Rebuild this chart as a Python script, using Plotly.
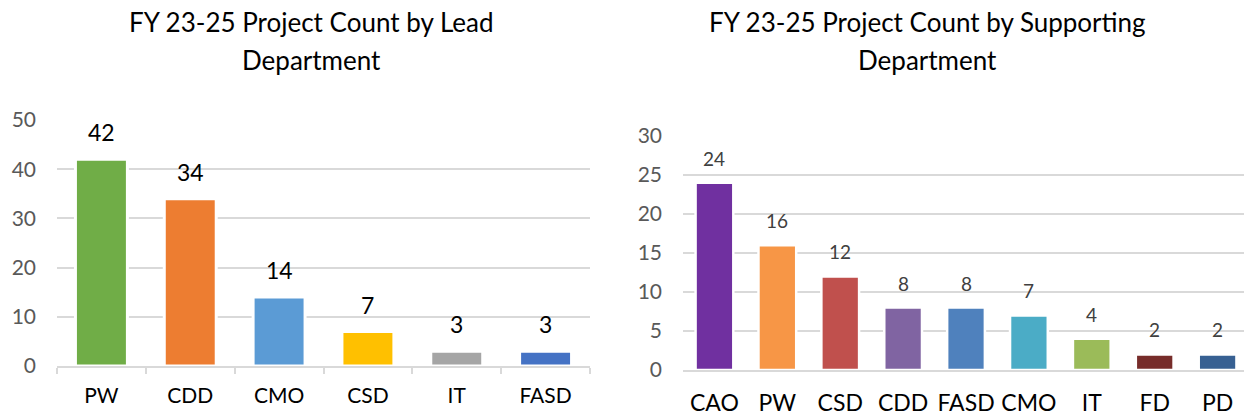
import plotly.graph_objects as go

# ---- data ----
lead_depts = ["PW", "CDD", "CMO", "CSD", "IT", "FASD"]
lead_counts = [42, 34, 14, 7, 3, 3]
lead_colors = ["#70AD47", "#ED7D31", "#5B9BD5", "#FFC000", "#A5A5A5", "#4472C4"]

supp_depts = ["CAO", "PW", "CSD", "CDD", "FASD", "CMO", "IT", "FD", "PD"]
supp_counts = [24, 16, 12, 8, 8, 7, 4, 2, 2]
supp_colors = ["#7030A0", "#F79646", "#C0504D", "#8064A2", "#4F81BD",
               "#4BACC6", "#9BBB59", "#772C2A", "#376092"]

lead_ticks = [0, 10, 20, 30, 40, 50]
supp_ticks = [0, 5, 10, 15, 20, 25, 30]

title_left = ["FY 23-25 Project Count by Lead", "Department"]
title_right = ["FY 23-25 Project Count by Supporting", "Department"]

W, H = 1244, 415
FONT = "Lato"
GRID = "#D9D9D9"

fig = go.Figure()
fig.add_trace(go.Bar(x=lead_depts, y=lead_counts, marker=dict(color=lead_colors, line=dict(color="white", width=3)),
                     width=0.585, xaxis="x", yaxis="y", showlegend=False, hoverinfo="x+y"))
fig.add_trace(go.Bar(x=supp_depts, y=supp_counts, marker=dict(color=supp_colors, line=dict(color="white", width=2.5)),
                     width=0.6, xaxis="x2", yaxis="y2", showlegend=False, hoverinfo="x+y"))

annotations = []
for d, v in zip(lead_depts, lead_counts):
    annotations.append(dict(x=d, y=v, xref="x", yref="y", text=str(v), showarrow=False,
                            yanchor="middle", yshift=27, font=dict(family=FONT, size=23, color="#000000")))
for d, v in zip(supp_depts, supp_counts):
    annotations.append(dict(x=d, y=v, xref="x2", yref="y2", text=str(v), showarrow=False,
                            yanchor="middle", yshift=24.5, font=dict(family=FONT, size=19, color="#404040")))

for lines, cx in ((title_left, 311), (title_right, 927)):
    for line, cy in zip(lines, (22, 60)):
        annotations.append(dict(x=cx / W, y=1 - cy / H, xref="paper", yref="paper", text=line,
                                showarrow=False, xanchor="center", yanchor="middle",
                                font=dict(family=FONT, size=26, color="#000000")))

fig.update_layout(
    width=W, height=H,
    margin=dict(l=0, r=0, t=0, b=0, autoexpand=False),
    paper_bgcolor="white", plot_bgcolor="white",
    font=dict(family=FONT),
    xaxis=dict(domain=[57 / W, 590 / W], anchor="y", showline=True, linecolor=GRID, linewidth=1.5,
               ticks="outside", tickson="boundaries", ticklen=6, tickcolor=GRID, tickwidth=1.5,
               ticklabelstandoff=10, showgrid=False, automargin=False,
               tickfont=dict(family=FONT, size=21, color="#000000"), fixedrange=True),
    yaxis=dict(domain=[(H - 366) / H, (H - 120) / H], anchor="x", range=[0, 50], tickvals=lead_ticks,
               showgrid=True, gridcolor=GRID, gridwidth=1.5, zeroline=False, showline=False, automargin=False,
               ticklabelstandoff=20, tickfont=dict(family=FONT, size=21, color="#595959"), fixedrange=True),
    xaxis2=dict(domain=[683 / W, 1.0], anchor="y2", range=[-0.5, 8.42], showline=True, linecolor=GRID,
                linewidth=1.5, ticks="", showgrid=False, ticklabelstandoff=12, automargin=False,
                tickfont=dict(family=FONT, size=23, color="#000000"), fixedrange=True),
    yaxis2=dict(domain=[(H - 370) / H, (H - 136) / H], anchor="x2", range=[0, 30], tickvals=supp_ticks,
                showgrid=True, gridcolor=GRID, gridwidth=1.5, zeroline=False, showline=False, automargin=False,
                ticklabelstandoff=20, tickfont=dict(family=FONT, size=21, color="#595959"), fixedrange=True),
    annotations=annotations,
)

fig.write_html("out.html", config={"displayModeBar": False},
               post_script="document.body.style.margin='0';document.body.style.overflow='hidden';")
